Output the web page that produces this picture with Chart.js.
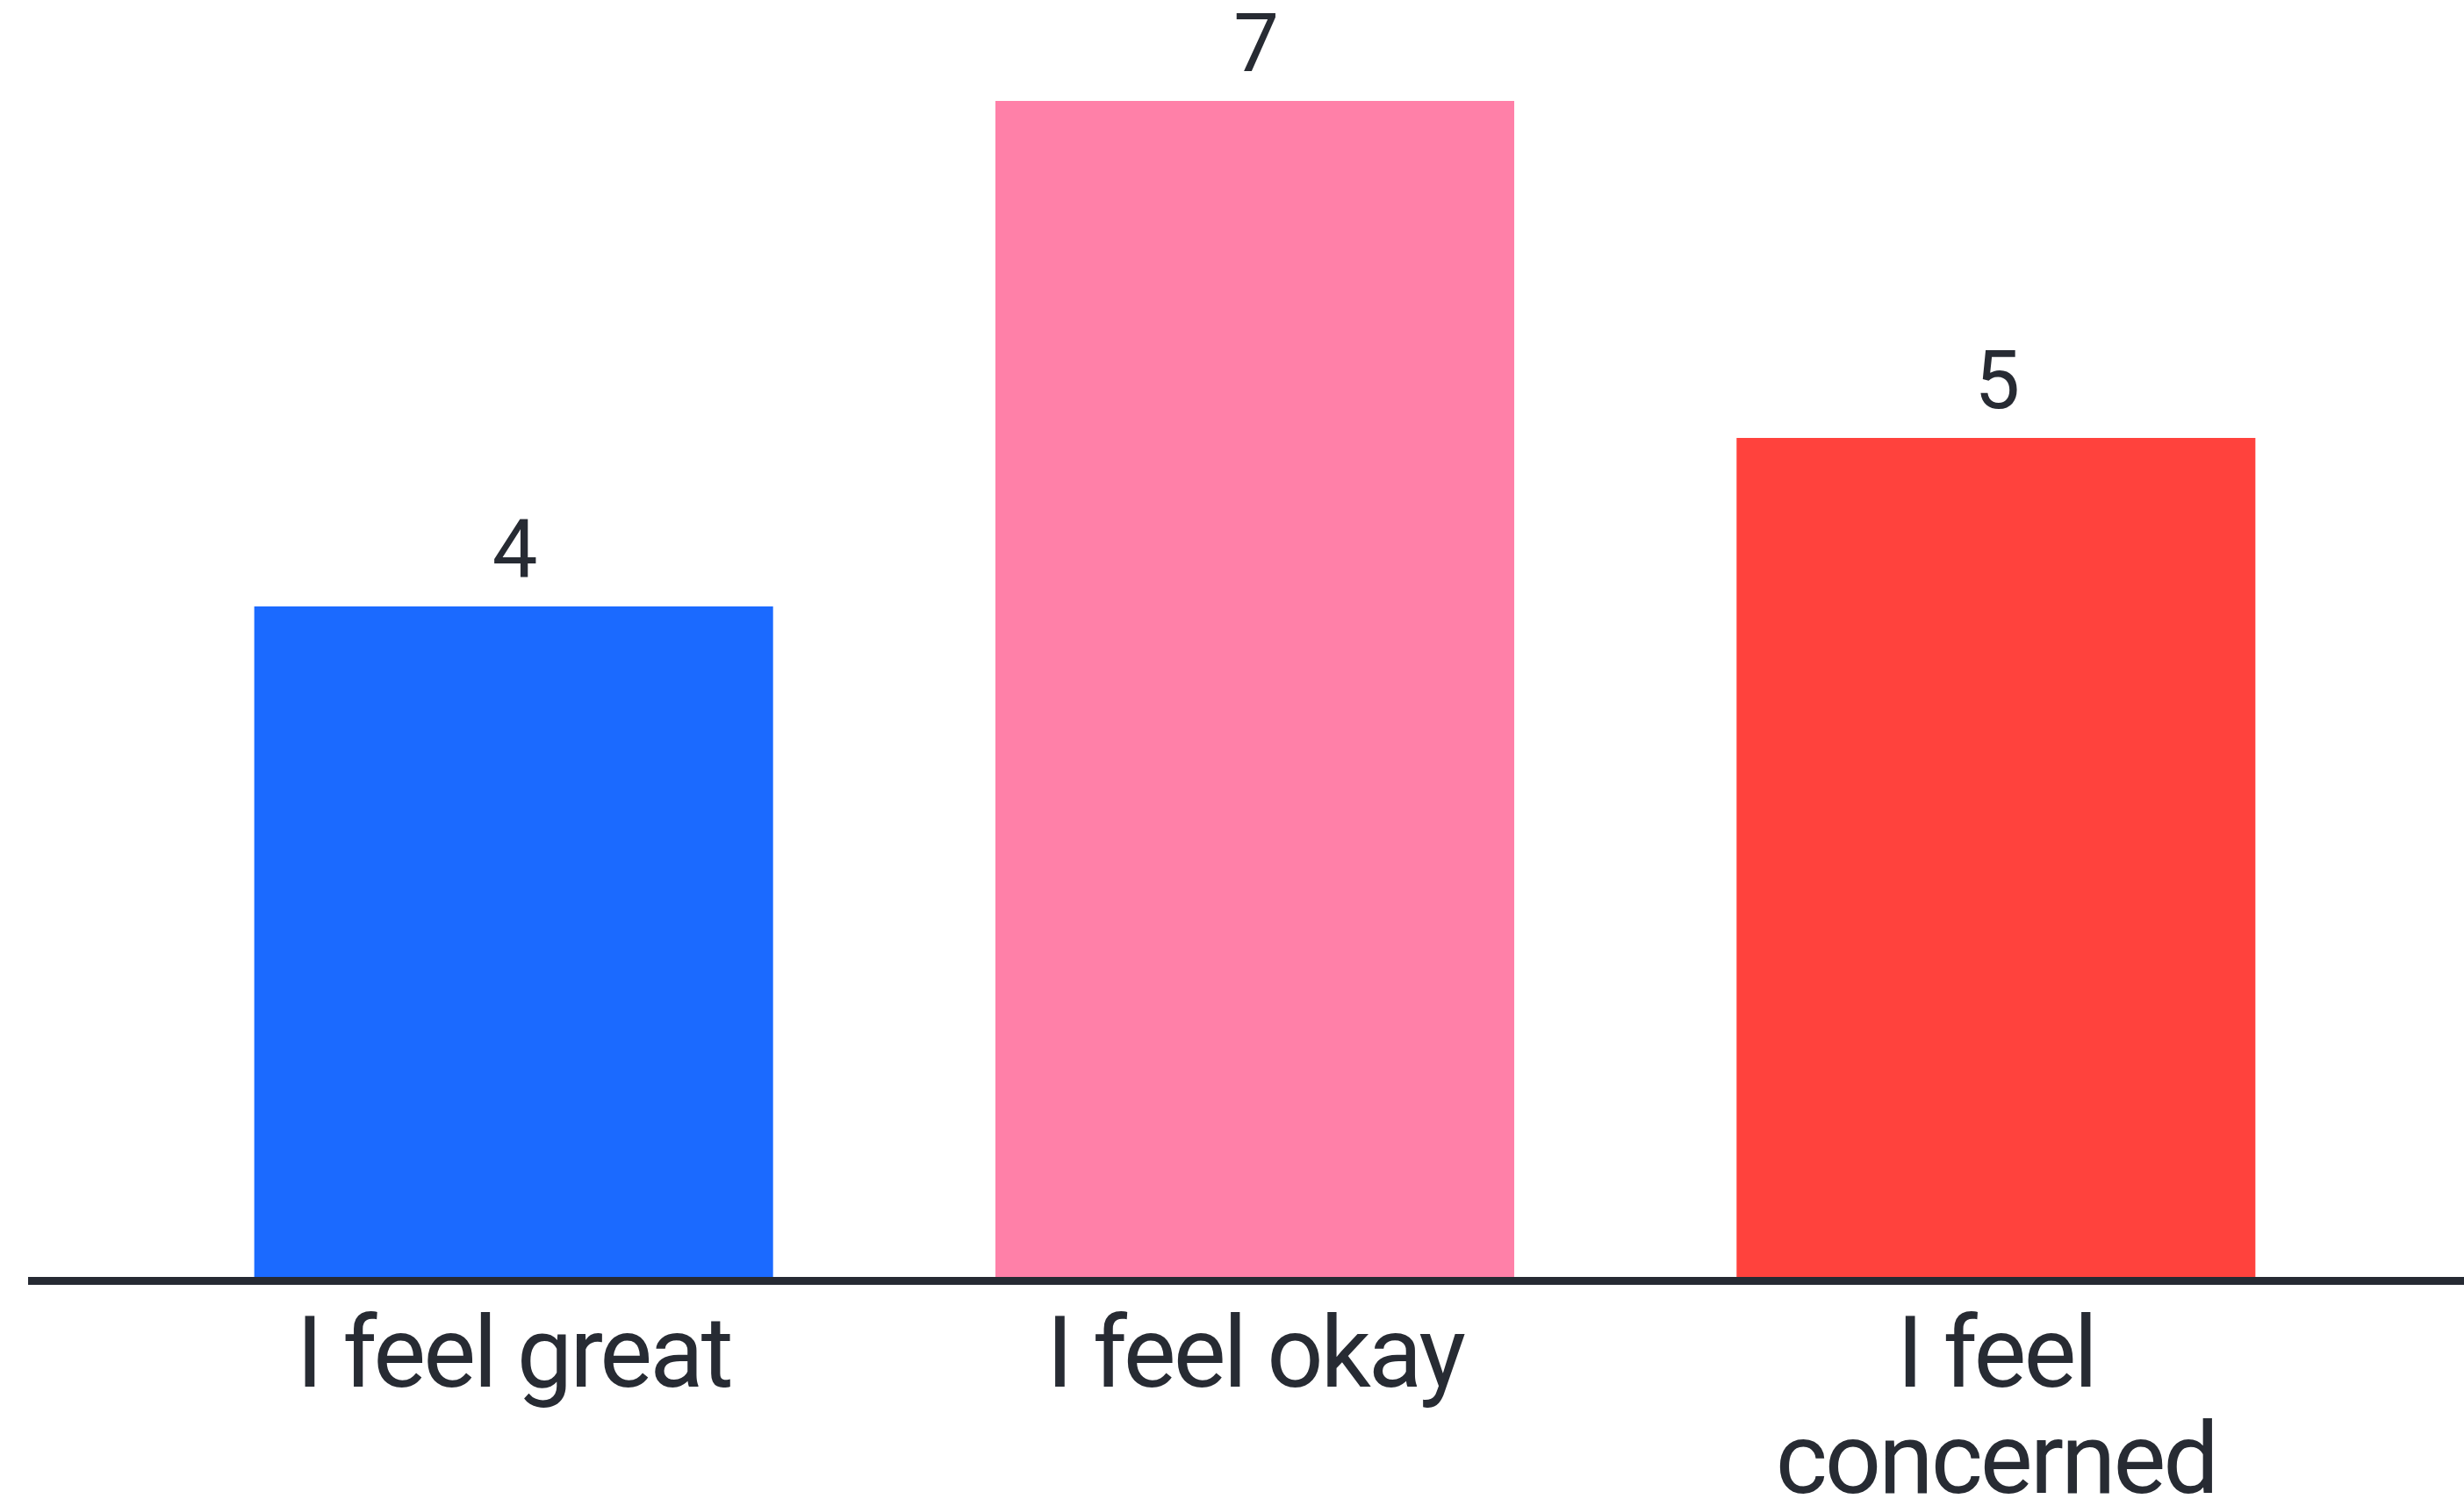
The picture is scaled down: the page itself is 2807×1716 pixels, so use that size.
<!DOCTYPE html>
<html>
<head>
<meta charset="utf-8">
<script src="https://cdn.jsdelivr.net/npm/chart.js@4.4.1/dist/chart.umd.min.js"></script>
<style>
  html, body { margin: 0; padding: 0; background: #ffffff; }
  #wrap { width: 2807px; height: 1716px; }
</style>
</head>
<body>
<div id="wrap"><canvas id="moodChart" width="2807" height="1716"></canvas></div>
<script>
// data
const categories = [["I feel great"], ["I feel okay"], ["I feel", "concerned"]];
const responses = [4, 7, 5];
const barColors = ["#1b6aff", "#ff80a8", "#ff423d"];

const textColor = "#272b33";

// value above each bar
const valueLabels = {
    id: "valueLabels",
    afterDatasetsDraw(chart) {
        const ctx = chart.ctx;
        const meta = chart.getDatasetMeta(0);
        ctx.save();
        ctx.font = "92px Roboto";
        ctx.fillStyle = textColor;
        ctx.textAlign = "center";
        ctx.textBaseline = "alphabetic";
        meta.data.forEach((bar, i) => {
            ctx.fillText(String(responses[i]), bar.x, bar.y - 34);
        });
        ctx.restore();
    }
};

// baseline runs across the whole picture
const baseLine = {
    id: "baseLine",
    afterDatasetsDraw(chart) {
        const ctx = chart.ctx;
        const y = chart.scales.y.getPixelForValue(0);
        ctx.save();
        ctx.strokeStyle = "#262a33";
        ctx.lineWidth = 9;
        ctx.beginPath();
        ctx.moveTo(32, y + 0.5);
        ctx.lineTo(chart.width, y + 0.5);
        ctx.stroke();
        ctx.restore();
    },
    beforeDraw(chart) {
        chart.ctx.letterSpacing = "-3px";
    },
    afterDraw(chart) {
        chart.ctx.letterSpacing = "0px";
    }
};

const ctx = document.getElementById("moodChart").getContext("2d");
new Chart(ctx, {
    type: "bar",
    data: {
        labels: categories,
        datasets: [{
            data: responses,
            backgroundColor: barColors,
            borderWidth: 0,
            categoryPercentage: 1.0,
            barPercentage: 0.7
        }]
    },
    options: {
        responsive: false,
        animation: false,
        layout: { padding: { left: 163, right: 111, top: 19, bottom: 0 } },
        plugins: {
            legend: { display: false },
            tooltip: { enabled: false }
        },
        scales: {
            x: {
                grid: { display: false, drawTicks: false },
                border: { display: false },
                ticks: {
                    color: textColor,
                    padding: 32,
                    font: { family: "Roboto", size: 113, lineHeight: 1.07 }
                },
                afterFit(scale) { scale.height = 257; }
            },
            y: {
                display: false,
                min: 0,
                max: 7.5
            }
        }
    },
    plugins: [valueLabels, baseLine]
});
</script>
</body>
</html>
